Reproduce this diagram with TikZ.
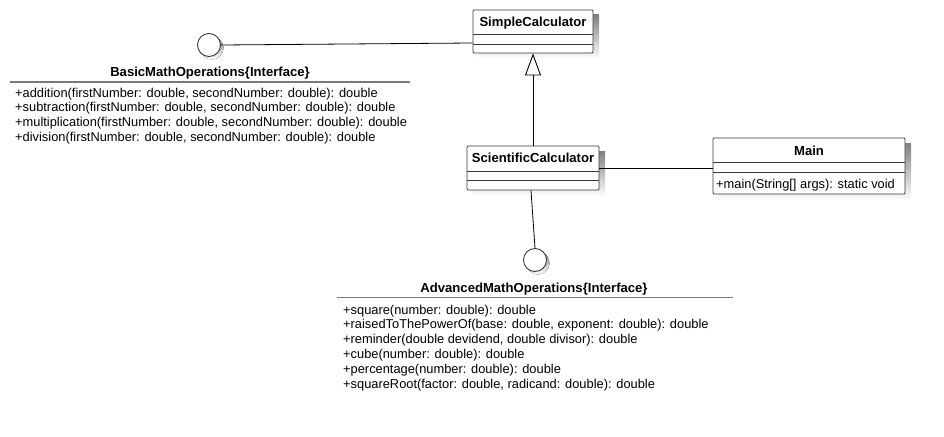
\documentclass[tikz,border=0pt]{standalone}
\usepackage{fontspec}
\setmainfont{Liberation Sans}
\usetikzlibrary{arrows.meta}
\definecolor{edge}{HTML}{3A3A3A}
\definecolor{rule}{HTML}{7A7A7A}
\definecolor{shade}{HTML}{F1F1F1}
\tikzset{
  cls/.style={draw=edge, line width=0.9pt, fill=white, rounded corners=1pt, inner sep=0pt},
  ttl/.style={font=\fontsize{13.1}{15}\selectfont\bfseries, anchor=base, inner sep=0pt},
  mth/.style={font=\fontsize{12.85}{15}\selectfont, anchor=base west, inner sep=0pt},
  sep/.style={draw=edge, line width=0.9pt},
  hrule/.style={draw=rule, line width=1.6pt},
  iface/.style={circle, draw=edge, line width=0.9pt, fill=white, minimum size=23pt, inner sep=0pt},
  conn/.style={draw=black, line width=0.8pt},
}
\begin{document}
\begin{tikzpicture}[x=1pt,y=-1pt]
\useasboundingbox (0,0) rectangle (944,436);
\fill[white] (0,0) rectangle (944,436);

% shadows
\fill[shade] (478,15) rectangle (599,59);
\fill[shade] (472,151) rectangle (605,196);
\fill[shade] (718,143) rectangle (911,200);
\fill[shade] (212,48) circle (11.5);
\fill[shade] (538,263) circle (11.5);

% SimpleCalculator
\node[cls, minimum width=120pt, minimum height=43pt] (simple) at (533,31.5) {};
\node[ttl] (simpleT) at (533,27) {SimpleCalculator};
\draw[sep] (473,34) -- (593,34);
\draw[sep] (473,44) -- (593,44);

% ScientificCalculator
\node[cls, minimum width=132pt, minimum height=44pt] (sci) at (533,168) {};
\node[ttl] (sciT) at (533,162) {ScientificCalculator};
\draw[sep] (467,171) -- (599,171);
\draw[sep] (467,180.5) -- (599,180.5);

% Main
\node[cls, minimum width=192pt, minimum height=56pt] (main) at (809,166) {};
\node[ttl] (mainT) at (809,155) {Main};
\draw[sep] (713,162) -- (905,162);
\draw[sep] (713,172) -- (905,172);
\node[mth] (mainM) at (716,188) {+main(String[] args): static void};

% BasicMathOperations interface
\node[iface] (basicI) at (209,45) {};
\node[ttl] (basicT) at (210,77) {BasicMathOperations\{Interface\}};
\draw[hrule] (10,82) -- (410,82);
\node[mth] (b1) at (15,97) {+addition(firstNumber: double, secondNumber: double): double};
\node[mth] (b2) at (15,111.7) {+subtraction(firstNumber: double, secondNumber: double): double};
\node[mth] (b3) at (15,126.4) {+multiplication(firstNumber: double, secondNumber: double): double};
\node[mth] (b4) at (15,141.1) {+division(firstNumber: double, secondNumber: double): double};

% AdvancedMathOperations interface
\node[iface] (advI) at (535,260) {};
\node[ttl] (advT) at (534,292) {AdvancedMathOperations\{Interface\}};
\draw[hrule] (337,297.5) -- (733,297.5);
\node[mth] (a1) at (343,314) {+square(number: double): double};
\node[mth] (a2) at (343,328.8) {+raisedToThePowerOf(base: double, exponent: double): double};
\node[mth] (a3) at (343,343.6) {+reminder(double devidend, double divisor): double};
\node[mth] (a4) at (343,358.4) {+cube(number: double): double};
\node[mth] (a5) at (343,373.2) {+percentage(number: double): double};
\node[mth] (a6) at (343,388) {+squareRoot(factor: double, radicand: double): double};

% connectors
\draw[conn] (basicI.east) -- ([yshift=-11.5pt]simple.west);
\draw[conn] (sci.east) -- (sci.east -| main.west);
\draw[conn] ([xshift=-2pt]sci.south) -- (advI.north);
\draw[conn, -{Triangle[open, length=22pt, width=16pt, line width=0.9pt]}] (sci.north) -- (simple.south);
\end{tikzpicture}
\end{document}
